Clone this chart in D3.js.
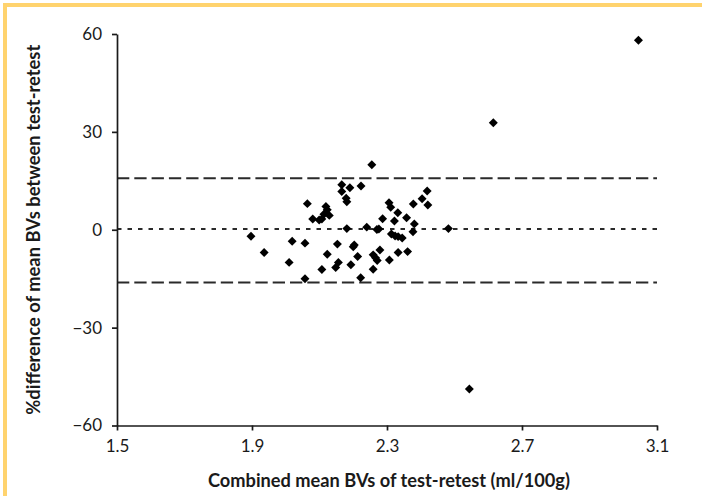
<!DOCTYPE html>
<html>
<head>
<meta charset="utf-8">
<script src="https://cdn.jsdelivr.net/npm/d3@7"></script>
<style>
  body { margin: 0; background: #fff; }
  svg { display: block; }
  .tick text { font-family: Lato, "Open Sans", sans-serif; font-size: 17px; fill: #1a1a1a; }
  .title { font-family: Lato, "Open Sans", sans-serif; font-weight: bold; font-size: 18px; fill: #1a1a1a; }
</style>
</head>
<body>
<div id="chart"></div>
<script>
var width = 702,
    height = 496;

// combined mean BV (ml/100g)
var meanBV = [
  1.897, 1.936, 2.010, 2.019, 2.057, 2.057, 2.064, 2.080, 2.099, 2.107,
  2.119, 2.123, 2.113, 2.129, 2.107, 2.123, 2.153, 2.156, 2.148, 2.166,
  2.166, 2.179, 2.181, 2.181, 2.190, 2.223, 2.255, 2.240, 2.270, 2.276,
  2.203, 2.200, 2.213, 2.193, 2.222, 2.259, 2.259, 2.266, 2.271, 2.279,
  2.307, 2.287, 2.306, 2.311, 2.332, 2.322, 2.358, 2.381, 2.377, 2.313,
  2.324, 2.333, 2.345, 2.333, 2.361, 2.378, 2.404, 2.419, 2.421, 2.482,
  2.544, 2.615, 3.045
];
// % difference between test and retest
var pctDiff = [
  -2.0, -7.0, -10.0, -3.5, -4.1, -15.0, 8.0, 3.3, 3.0, 3.3,
  7.1, 6.1, 4.75, 4.4, -12.2, -7.5, -4.4, -10.0, -11.6, 13.8,
  11.7, 9.65, 8.6, 0.35, 12.9, 13.4, 19.9, 0.8, 0.1, 0.25,
  -4.7, -5.2, -8.2, -10.7, -14.7, -12.1, -7.7, -8.6, -9.4, -6.2,
  -9.3, 3.4, 8.3, 6.9, 5.2, 2.7, 3.7, 1.8, -0.6, -1.3,
  -1.9, -2.1, -2.5, -7.0, -6.7, 7.9, 9.5, 11.9, 7.6, 0.35,
  -48.8, 32.8, 58.1
];
var points = meanBV.map(function(d, i) { return { x: d, y: pctDiff[i] }; });

var xTicks = [1.5, 1.9, 2.3, 2.7, 3.1];
var yTicks = [-60, -30, 0, 30, 60];

// mean difference and limits of agreement
var refLines = [
  { value: 15.8, kind: "limit" },
  { value: 0.2, kind: "mean" },
  { value: -16.2, kind: "limit" }
];

var svg = d3.select("#chart").append("svg")
  .attr("width", width)
  .attr("height", height);

// yellow frame (only top and left edges fall inside the picture)
svg.append("rect")
  .attr("x", 5).attr("y", 5)
  .attr("width", 800).attr("height", 600)
  .attr("fill", "#fff")
  .attr("stroke", "#FFD36E")
  .attr("stroke-width", 4);

var x = d3.scaleLinear().domain([1.5, 3.1]).range([117, 657]);
var y = d3.scaleLinear().domain([-60, 60]).range([425.5, 34]);

var g = svg.append("g");

// reference lines
g.selectAll("line.ref")
  .data(refLines)
  .enter()
  .append("line")
  .attr("class", "ref")
  .attr("x1", x(1.5))
  .attr("x2", x(3.1))
  .attr("y1", function(d) { return y(d.value); })
  .attr("y2", function(d) { return y(d.value); })
  .attr("stroke", "#2a2a2a")
  .attr("stroke-width", 2)
  .attr("stroke-dasharray", function(d) { return d.kind == "mean" ? "4.5,6" : "12.3,5"; });

// axes
var xAxis = d3.axisBottom(x).tickValues(xTicks).tickSize(5).tickSizeOuter(0).tickFormat(d3.format(".1f"));
var yAxis = d3.axisLeft(y).tickValues(yTicks).tickSize(5).tickSizeOuter(0);

var gx = svg.append("g")
  .attr("transform", "translate(0," + y(-60) + ")")
  .call(xAxis);
gx.selectAll("text").attr("dy", "1.1em");

var gy = svg.append("g")
  .attr("transform", "translate(" + x(1.5) + ",0)")
  .call(yAxis);
gy.selectAll("text").attr("x", -15);

svg.selectAll(".domain, .tick line")
  .attr("stroke", "#1a1a1a")
  .attr("stroke-width", 1.7);

// points
g.selectAll("path.pt")
  .data(points)
  .enter()
  .append("path")
  .attr("class", "pt")
  .attr("d", d3.symbol().type(d3.symbolSquare).size(40))
  .attr("transform", function(d) { return "translate(" + x(d.x) + "," + y(d.y) + ")rotate(45)"; })
  .attr("fill", "#000");

// titles
svg.append("text")
  .attr("class", "title")
  .attr("x", (x(1.5) + x(3.1)) / 2 + 2)
  .attr("y", 487)
  .attr("text-anchor", "middle")
  .attr("textLength", 362)
  .attr("lengthAdjust", "spacingAndGlyphs")
  .text("Combined mean BVs of test-retest (ml/100g)");

svg.append("text")
  .attr("class", "title")
  .attr("transform", "translate(40," + y(0) + ")rotate(-90)")
  .attr("text-anchor", "middle")
  .attr("textLength", 370)
  .attr("lengthAdjust", "spacingAndGlyphs")
  .text("%difference of mean BVs between test-retest");
</script>
</body>
</html>
